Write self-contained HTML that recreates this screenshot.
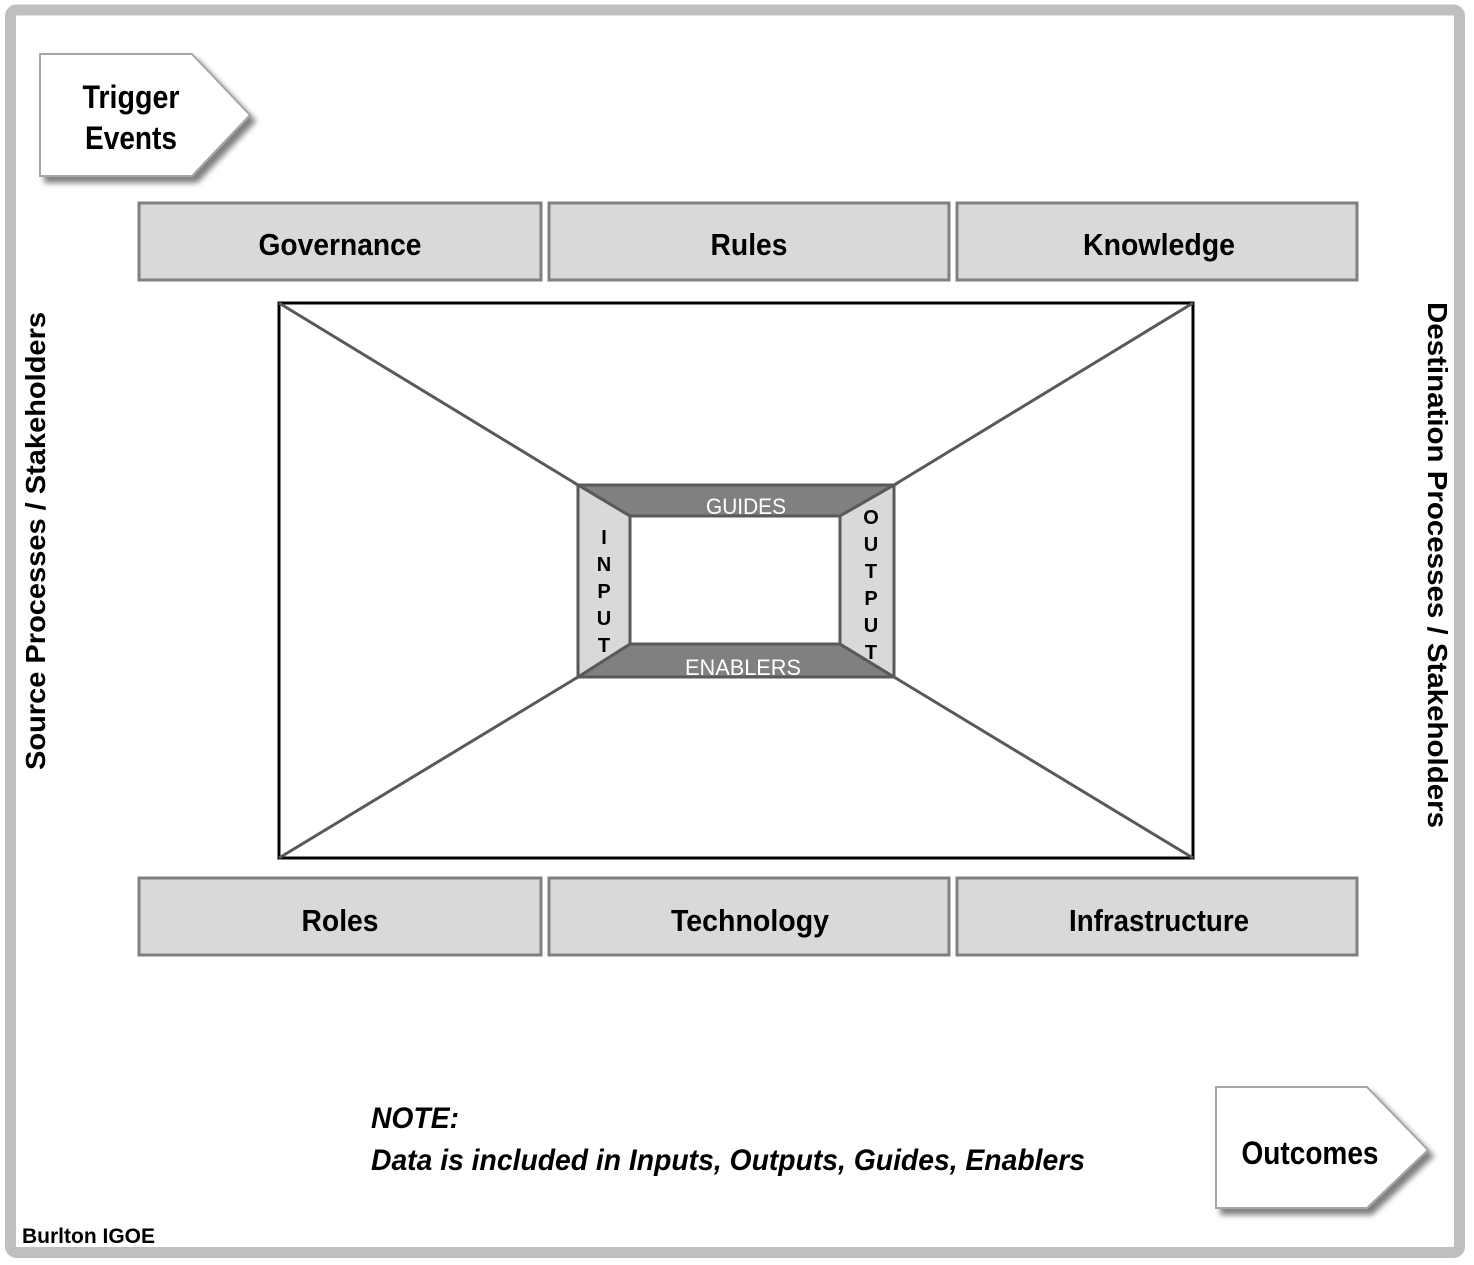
<!DOCTYPE html>
<html><head><meta charset="utf-8"><style>html,body{margin:0;padding:0;background:#fff}svg{display:block}</style></head>
<body>
<svg width="1474" height="1265" viewBox="0 0 1474 1265" xmlns="http://www.w3.org/2000/svg" font-family="Liberation Sans, Arial, sans-serif">
<defs>
<filter id="sh" x="-10%" y="-10%" width="130%" height="130%"><feGaussianBlur in="SourceAlpha" stdDeviation="3"/><feOffset dx="5" dy="6"/><feComponentTransfer><feFuncA type="linear" slope="0.5"/></feComponentTransfer><feMerge><feMergeNode/><feMergeNode in="SourceGraphic"/></feMerge></filter>
</defs>
<rect x="10.5" y="10" width="1449" height="1242.5" rx="6" fill="#fff" stroke="#bfbfbf" stroke-width="11"/>
<!-- Trigger -->
<polygon points="40,54 192,54 250,115 192,176 40,176" fill="#fff" stroke="#a6a6a6" stroke-width="2" filter="url(#sh)"/>
<text x="131" y="108" font-size="32" font-weight="bold" text-anchor="middle" textLength="97" lengthAdjust="spacingAndGlyphs">Trigger</text>
<text x="131" y="149" font-size="32" font-weight="bold" text-anchor="middle" textLength="92" lengthAdjust="spacingAndGlyphs">Events</text>
<!-- Outcomes -->
<polygon points="1216,1087 1367,1087 1428,1150 1367,1208 1216,1208" fill="#fff" stroke="#a6a6a6" stroke-width="2" filter="url(#sh)"/>
<text x="1310" y="1164" font-size="32" font-weight="bold" text-anchor="middle" textLength="137" lengthAdjust="spacingAndGlyphs">Outcomes</text>
<!-- top boxes -->
<g fill="#d9d9d9" stroke="#808080" stroke-width="3">
<rect x="139" y="203" width="402" height="77"/><rect x="549" y="203" width="400" height="77"/><rect x="957" y="203" width="400" height="77"/>
<rect x="139" y="878" width="402" height="77"/><rect x="549" y="878" width="400" height="77"/><rect x="957" y="878" width="400" height="77"/>
</g>
<g font-size="31" font-weight="bold" text-anchor="middle">
<text x="340" y="255" textLength="163" lengthAdjust="spacingAndGlyphs">Governance</text>
<text x="749" y="255" textLength="77" lengthAdjust="spacingAndGlyphs">Rules</text>
<text x="1159" y="255" textLength="152" lengthAdjust="spacingAndGlyphs">Knowledge</text>
<text x="340" y="931" textLength="77" lengthAdjust="spacingAndGlyphs">Roles</text>
<text x="750" y="931" textLength="158" lengthAdjust="spacingAndGlyphs">Technology</text>
<text x="1159" y="931" textLength="180" lengthAdjust="spacingAndGlyphs">Infrastructure</text>
</g>
<!-- big rect -->
<rect x="279" y="303" width="914" height="555" fill="#fff" stroke="#000" stroke-width="3"/>
<g stroke="#595959" stroke-width="3">
<line x1="279" y1="303" x2="578" y2="485"/><line x1="1193" y1="303" x2="894" y2="485"/>
<line x1="279" y1="858" x2="578" y2="677"/><line x1="1193" y1="858" x2="894" y2="677"/>
</g>
<g stroke="#595959" stroke-width="3" stroke-linejoin="miter">
<polygon points="578,485 894,485 840,516 630,516" fill="#808080"/>
<polygon points="578,677 894,677 840,644 630,644" fill="#808080"/>
<polygon points="578,485 630,516 630,644 578,677" fill="#d9d9d9"/>
<polygon points="894,485 840,516 840,644 894,677" fill="#d9d9d9"/>
<rect x="630" y="516" width="210" height="128" fill="#fff"/>
</g>
<g font-size="22" text-anchor="middle" fill="#fff">
<text x="746" y="514" textLength="80" lengthAdjust="spacingAndGlyphs">GUIDES</text>
<text x="743" y="675" textLength="116" lengthAdjust="spacingAndGlyphs">ENABLERS</text>
</g>
<g font-size="20" font-weight="bold" text-anchor="middle">
<text x="604" y="544">I</text><text x="604" y="571">N</text><text x="604" y="598">P</text><text x="604" y="625">U</text><text x="604" y="652">T</text>
<text x="871" y="524">O</text><text x="871" y="551">U</text><text x="871" y="578">T</text><text x="871" y="605">P</text><text x="871" y="632">U</text><text x="871" y="659">T</text>
</g>
<!-- side labels -->
<text transform="translate(45,541) rotate(-90)" font-size="28" font-weight="bold" text-anchor="middle" textLength="458" lengthAdjust="spacingAndGlyphs">Source Processes / Stakeholders</text>
<text transform="translate(1428,565) rotate(90)" font-size="28" font-weight="bold" text-anchor="middle" textLength="526" lengthAdjust="spacingAndGlyphs">Destination Processes / Stakeholders</text>
<!-- note -->
<g font-size="30" font-weight="bold" font-style="italic">
<text x="371" y="1128" textLength="88" lengthAdjust="spacingAndGlyphs">NOTE:</text>
<text x="371" y="1170" textLength="714" lengthAdjust="spacingAndGlyphs">Data is included in Inputs, Outputs, Guides, Enablers</text>
</g>
<text x="22" y="1243" font-size="21" font-weight="bold" textLength="133" lengthAdjust="spacingAndGlyphs">Burlton IGOE</text>
</svg>
</body></html>
